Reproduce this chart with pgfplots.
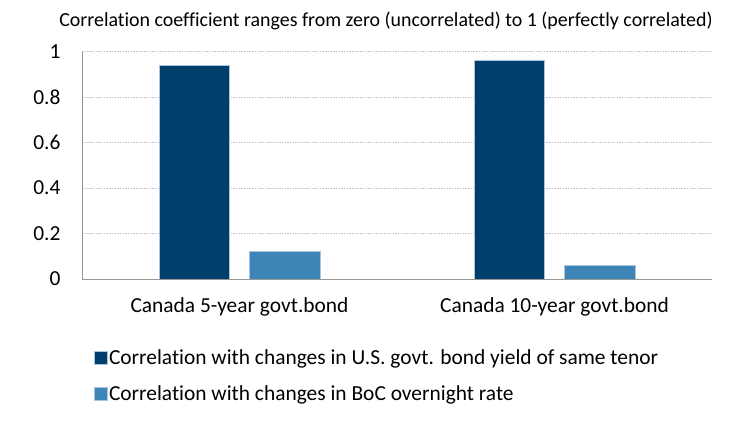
\documentclass[border=0pt]{standalone}
\usepackage{fontspec}
\setmainfont[Ligatures=NoCommon]{Carlito}
\usepackage{pgfplots}
\pgfplotsset{compat=1.18}
\definecolor{darkb}{RGB}{0,62,107}
\definecolor{lightb}{RGB}{61,132,183}
\definecolor{gridc}{RGB}{195,195,195}
\definecolor{axc}{RGB}{150,150,150}
\definecolor{edgec}{RGB}{170,195,222}
\begin{document}
\begin{tikzpicture}
\path[use as bounding box] (0bp,0bp) rectangle (750bp,422bp);
\node[font=\fontsize{20}{22}\selectfont, anchor=center] at (386bp,401bp) {Correlation coefficient ranges from zero (uncorrelated) to 1 (perfectly correlated)};
\begin{axis}[
  at={(82bp,143bp)}, anchor=south west,
  scale only axis, width=630bp, height=227.3bp,
  ymin=0, ymax=1, xmin=-0.5, xmax=1.5,
  ytick={0,0.2,0.4,0.6,0.8,1},
  xtick={0,1},
  xticklabels={Canada 5-year govt.bond, Canada 10-year govt.bond},
  axis x line*=bottom, axis y line*=left,
  axis line style={axc, line width=1bp, -},
  ymajorgrids,
  grid style={gridc, line width=0.8bp, dash pattern=on 1.5bp off 1.2bp},
  major tick length=0,
  /pgf/number format/assume math mode=true,
  tick label style={font=\fontsize{21.5}{23}\selectfont, black},
  yticklabel style={xshift=-18bp},
  xticklabel style={yshift=-15bp},
  ybar, bar width=0.224,
  legend style={at={(0.018,-0.30)}, anchor=north west, draw=none,
    font=\fontsize{21.5}{23}\selectfont, row sep=16bp, inner sep=0pt},
  legend cell align=left,
  legend image code/.code={\fill[#1] (0bp,-6.5bp) rectangle (13bp,6.5bp);},
]
\addplot[fill=darkb, draw=edgec, line width=0.5bp, bar shift=-0.143] coordinates {(0,0.94) (1,0.962)};
\addplot[fill=lightb, draw=edgec, line width=0.5bp, bar shift=0.143] coordinates {(0,0.122) (1,0.059)};
\legend{Correlation with changes in U.S. govt. bond yield of same tenor, Correlation with changes in BoC overnight rate}
\end{axis}
\end{tikzpicture}
\end{document}
